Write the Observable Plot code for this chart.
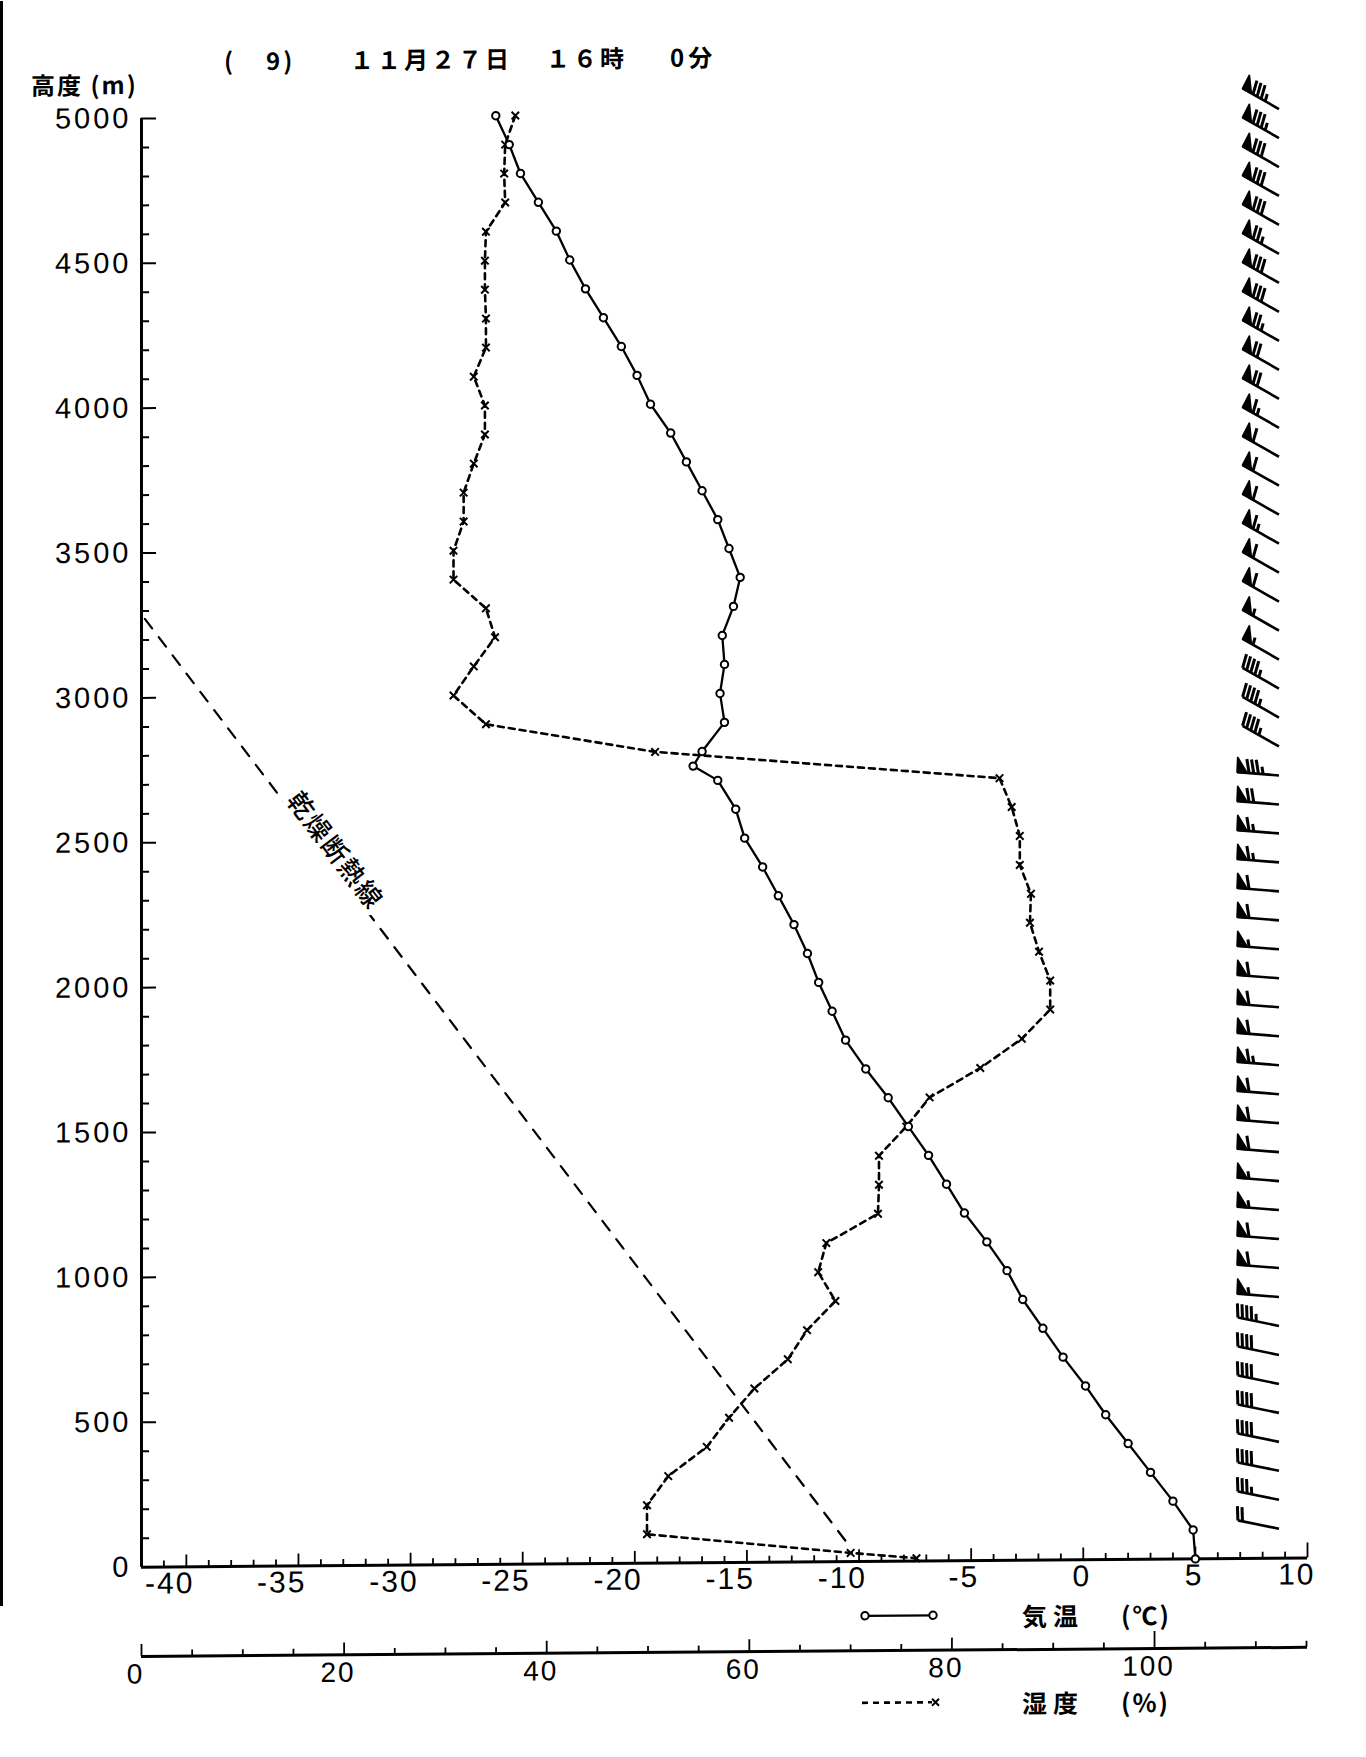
<!DOCTYPE html>
<html><head><meta charset="utf-8">
<script src="https://cdn.jsdelivr.net/npm/d3@7"></script>
<script src="https://cdn.jsdelivr.net/npm/@observablehq/plot@0.6"></script>
<style>
html,body{margin:0;padding:0;background:#fff;}
#page{position:relative;width:1366px;height:1757px;overflow:hidden;background:#fff;transform:skewY(-0.45deg);transform-origin:141px 1566px;}
#page svg.pl{position:absolute;left:0;}
.lbl{position:absolute;white-space:pre;color:#000;font-family:"Noto Sans CJK JP","Noto Sans CJK SC",sans-serif;font-weight:700;line-height:22px;}
#border{position:absolute;left:0;top:0;width:3px;height:1605px;background:#000;}
</style></head><body><div id="page"><div id="border"></div></div>
<script>
// ---------------- data ----------------
const tempH = [5000,4900,4800,4700,4600,4500,4400,4300,4200,4100,4000,3900,3800,3700,3600,3500,3400,3300,3200,3100,3000,2900,2800,2750,2700,2600,2500,2400,2300,2200,2100,2000,1900,1800,1700,1600,1500,1400,1300,1200,1100,1000,900,800,700,600,500,400,300,200,100,0];
const tempT = [-26.2,-25.6,-25.1,-24.3,-23.5,-22.9,-22.2,-21.4,-20.6,-19.9,-19.3,-18.4,-17.7,-17.0,-16.3,-15.8,-15.3,-15.6,-16.1,-16.0,-16.2,-16.0,-17.0,-17.4,-16.3,-15.5,-15.1,-14.3,-13.6,-12.9,-12.3,-11.8,-11.2,-10.6,-9.7,-8.7,-7.8,-6.9,-6.1,-5.3,-4.3,-3.4,-2.7,-1.8,-0.9,0.1,1.0,2.0,3.0,4.0,4.9,5.0];
const humH = [5000,4900,4800,4700,4600,4500,4400,4300,4200,4100,4000,3900,3800,3700,3600,3500,3400,3300,3200,3100,3000,2900,2800,2700,2600,2500,2400,2300,2200,2100,2000,1900,1800,1700,1600,1500,1400,1300,1200,1100,1000,900,800,700,600,500,400,300,200,100,30,10];
const humV = [36.9,35.9,35.8,35.9,34.0,33.9,33.9,34.0,34.0,32.8,33.9,33.9,32.8,31.8,31.8,30.8,30.8,34.0,34.9,32.8,30.8,34.0,50.7,84.7,85.9,86.7,86.7,87.8,87.7,88.6,89.7,89.7,86.9,82.8,77.8,75.5,72.8,72.8,72.7,67.6,66.8,68.5,65.7,63.8,60.5,58.0,55.8,52.0,49.9,49.9,70.0,76.5];
const adiabatH = [3273, 45];
const adiabatT = [-41.85, -10.34];
const adiabatLabel = "乾燥断熱線";
const windH = [100,200,300,400,500,600,700,800,900,1000,1100,1200,1300,1400,1500,1600,1700,1800,1900,2000,2100,2200,2300,2400,2500,2600,2700,2800,2900,3000,3100,3200,3300,3400,3500,3600,3700,3800,3900,4000,4100,4200,4300,4400,4500,4600,4700,4800,4900,5000];
const windDir = [282,282,282,282,282,282,282,282,275,275,275,275,275,275,275,275,275,275,275,275,275,275,275,275,275,275,275,300,300,300,300,300,300,300,300,300,300,300,300,300,300,300,300,300,300,300,300,300,300,300];
const windSpeed = [20,35,40,40,40,40,40,45,55,60,60,55,55,60,60,60,65,60,60,60,55,60,60,65,65,70,85,45,45,45,55,55,60,60,65,60,60,60,65,70,70,75,80,80,75,80,80,80,85,85];
const xTickLabels = [-40,-35,-30,-25,-20,-15,-10,-5,0,5,10];
const yTickLabels = [0,500,1000,1500,2000,2500,3000,3500,4000,4500,5000];
const humTickLabels = [0,20,40,60,80,100];
const tDomain = [-42, 10];
const hDomain = [0, 5000];
const humDomain = [0, 115.1];
const barbColumnT = 8.75;

// ---------------- build ----------------
const humToT = v => tDomain[0] + (v - humDomain[0]) * (tDomain[1] - tDomain[0]) / (humDomain[1] - humDomain[0]);
const temp = tempH.map((h, i) => ({h, t: tempT[i]}));
const hum = humH.map((h, i) => ({h, v: humV[i], t: humToT(humV[i])}));
const adiabat = adiabatH.map((h, i) => ({h, t: adiabatT[i]}));
const labelPos = [{
  t: adiabatT[0] + 0.25 * (adiabatT[1] - adiabatT[0]),
  h: adiabatH[0] + 0.25 * (adiabatH[1] - adiabatH[0]),
  text: adiabatLabel
}];

function windBarbs(index, scales) {
  const g = d3.create("svg:g").attr("aria-label", "wind barbs")
    .attr("stroke", "black").attr("fill", "black").attr("stroke-width", 3);
  const L = 42, sp = 4.7, bl = 15, pw = 10, lean = 14 * Math.PI / 180;
  windH.forEach((h, i) => {
    const sx = scales.x(barbColumnT), sy = scales.y(h);
    const phi = windDir[i] * Math.PI / 180;
    const ux = Math.sin(phi), uy = -Math.cos(phi);
    const nx = -uy, ny = ux;
    const bx = nx * Math.cos(lean) + ux * Math.sin(lean);
    const by = ny * Math.cos(lean) + uy * Math.sin(lean);
    const tx = sx + ux * L, ty = sy + uy * L;
    const P = p => [tx - ux * p, ty - uy * p];
    g.append("line").attr("x1", sx).attr("y1", sy).attr("x2", tx).attr("y2", ty).attr("stroke-width", 2.6);
    let s = windSpeed[i], p = 0;
    const pen = Math.floor(s / 50); s -= pen * 50;
    for (let k = 0; k < pen; k++) {
      const a = P(p), b = P(p + pw), c = P(p + pw * 0.3);
      const apex = [c[0] + bx * bl, c[1] + by * bl];
      g.append("polygon").attr("points", [a, b, apex].map(q => q.join(",")).join(" ")).attr("stroke-width", 1.8).attr("stroke-linejoin", "round");
      p += pw + 2;
    }
    const full = Math.floor(s / 10); s -= full * 10;
    for (let k = 0; k < full; k++) {
      const a = P(p);
      g.append("line").attr("x1", a[0]).attr("y1", a[1]).attr("x2", a[0] + bx * bl * 0.95).attr("y2", a[1] + by * bl * 0.95);
      p += sp;
    }
    if (s >= 5) {
      const a = P(p);
      g.append("line").attr("x1", a[0]).attr("y1", a[1]).attr("x2", a[0] + bx * bl * 0.5).attr("y2", a[1] + by * bl * 0.5);
    }
  });
  return g.node();
}

const main = Plot.plot({
  width: 1366, height: 1625,
  marginLeft: 141, marginRight: 59, marginTop: 118, marginBottom: 58.3,
  x: {domain: tDomain, label: null},
  y: {domain: hDomain, label: null},
  style: {fontFamily: "'Liberation Sans', Arial, sans-serif", fontSize: "28px", letterSpacing: "2px", color: "black", background: "transparent", overflow: "visible"},
  marks: [
    Plot.ruleX([tDomain[0]], {y1: hDomain[0], y2: hDomain[1], strokeWidth: 3}),
    Plot.ruleY([hDomain[0]], {x1: tDomain[0], x2: tDomain[1], strokeWidth: 3}),
    Plot.ruleY(d3.range(100, 5001, 100), {x1: tDomain[0], x2: d => tDomain[0] + (d % 500 === 0 ? 0.67 : 0.36), strokeWidth: 2}),
    Plot.ruleX(d3.range(-41, 11), {y1: 0, y2: d => d === 10 ? 52 : (d % 5 === 0 ? 41 : 21), strokeWidth: 1.8}),
    Plot.line(adiabat, {x: "t", y: "h", stroke: "black", strokeWidth: 2.2, strokeDasharray: "12,11"}),
    Plot.text(labelPos, {x: "t", y: "h", text: "text", rotate: 53, dx: 13, fontSize: 26, fontWeight: 500, fontFamily: "'Noto Sans CJK JP', sans-serif", fill: "black", stroke: "white", strokeWidth: 12, ariaLabel: "adiabat-label"}),
    Plot.line(hum, {x: "t", y: "h", stroke: "black", strokeWidth: 2.6, strokeDasharray: "6,5"}),
    Plot.dot(hum, {x: "t", y: "h", symbol: "times", r: 3.5, stroke: "black", strokeWidth: 2}),
    Plot.line(temp, {x: "t", y: "h", stroke: "black", strokeWidth: 2.3}),
    Plot.dot(temp, {x: "t", y: "h", r: 3.7, fill: "white", stroke: "black", strokeWidth: 2}),
    windBarbs,
    Plot.axisY(yTickLabels, {anchor: "left", tickSize: 0, tickPadding: 10, fontSize: 29, tickFormat: d => String(d), label: null}),
    Plot.axisX(xTickLabels, {anchor: "bottom", tickSize: 0, tickPadding: 5, fontSize: 30, textAnchor: "end", dx: 8, tickFormat: d => String(d), label: null})
  ]
});
main.classList.add("pl");
main.style.top = "0px";
d3.select(main).selectAll('[aria-label="adiabat-label"] text').style("letter-spacing", "5px");
d3.select(main).selectAll('[aria-label="y-axis tick label"]').style("letter-spacing", "3px");

const humAxis = Plot.plot({
  width: 1366, height: 80,
  marginLeft: 141, marginRight: 59, marginTop: 10, marginBottom: 50,
  x: {domain: humDomain, label: null},
  y: {domain: [0, 1], axis: null},
  style: {fontFamily: "'Liberation Sans', Arial, sans-serif", fontSize: "28px", letterSpacing: "2px", color: "black", background: "transparent", overflow: "visible"},
  marks: [
    Plot.ruleY([0], {x1: humDomain[0], x2: humDomain[1], strokeWidth: 3}),
    Plot.ruleX(d3.range(0, 116, 5), {y1: 0, y2: d => d === 100 ? 0.85 : (d % 20 === 0 ? 0.6 : 0.3), strokeWidth: 1.8}),
    Plot.axisX(humTickLabels, {anchor: "bottom", tickSize: 0, tickPadding: 7, fontSize: 28, dx: -6, tickFormat: d => String(d), label: null})
  ]
});
humAxis.classList.add("pl");
humAxis.style.top = "1626px";

const page = document.getElementById("page");
page.appendChild(main);
page.appendChild(humAxis);

// titles and legends
const texts = [
  {s: "(", x: 224, y: 50, f: 24, ls: 3},
  {s: "9)", x: 266, y: 50, f: 24, ls: 3},
  {s: "１１月２７日", x: 350, y: 50, f: 24, ls: 3},
  {s: "１６時", x: 546, y: 50, f: 24, ls: 3},
  {s: "0分", x: 670, y: 50, f: 24, ls: 4},
  {s: "高度 (m)", x: 31, y: 73, f: 24, ls: 2},
  {s: "気温", x: 1022, y: 1611, f: 25, ls: 6},
  {s: "(℃)", x: 1121, y: 1611, f: 25, ls: 2},
  {s: "湿度", x: 1022, y: 1698, f: 25, ls: 6},
  {s: "(%)", x: 1121, y: 1698, f: 25, ls: 2}
];
texts.forEach(o => {
  const d = document.createElement("div");
  d.className = "lbl";
  d.textContent = o.s;
  d.style.left = o.x + "px"; d.style.top = o.y + "px";
  d.style.fontSize = o.f + "px"; d.style.letterSpacing = o.ls + "px";
  page.appendChild(d);
});

// legend symbols
const leg = d3.select(page).append("svg").attr("width", 120).attr("height", 130)
  .style("position", "absolute").style("left", "840px").style("top", "1590px");
leg.append("line").attr("x1", 25).attr("y1", 31.5).attr("x2", 93).attr("y2", 31.5).attr("stroke", "black").attr("stroke-width", 2.3);
[25, 93].forEach(cx => leg.append("circle").attr("cx", cx).attr("cy", 31.5).attr("r", 3.7).attr("fill", "white").attr("stroke", "black").attr("stroke-width", 2));
leg.append("line").attr("x1", 22).attr("y1", 118.5).attr("x2", 92).attr("y2", 118.5).attr("stroke", "black").attr("stroke-width", 2.6).attr("stroke-dasharray", "6,5");
leg.append("path").attr("d", "M92,115 L99,122 M92,122 L99,115").attr("stroke", "black").attr("stroke-width", 2);
</script></body></html>
